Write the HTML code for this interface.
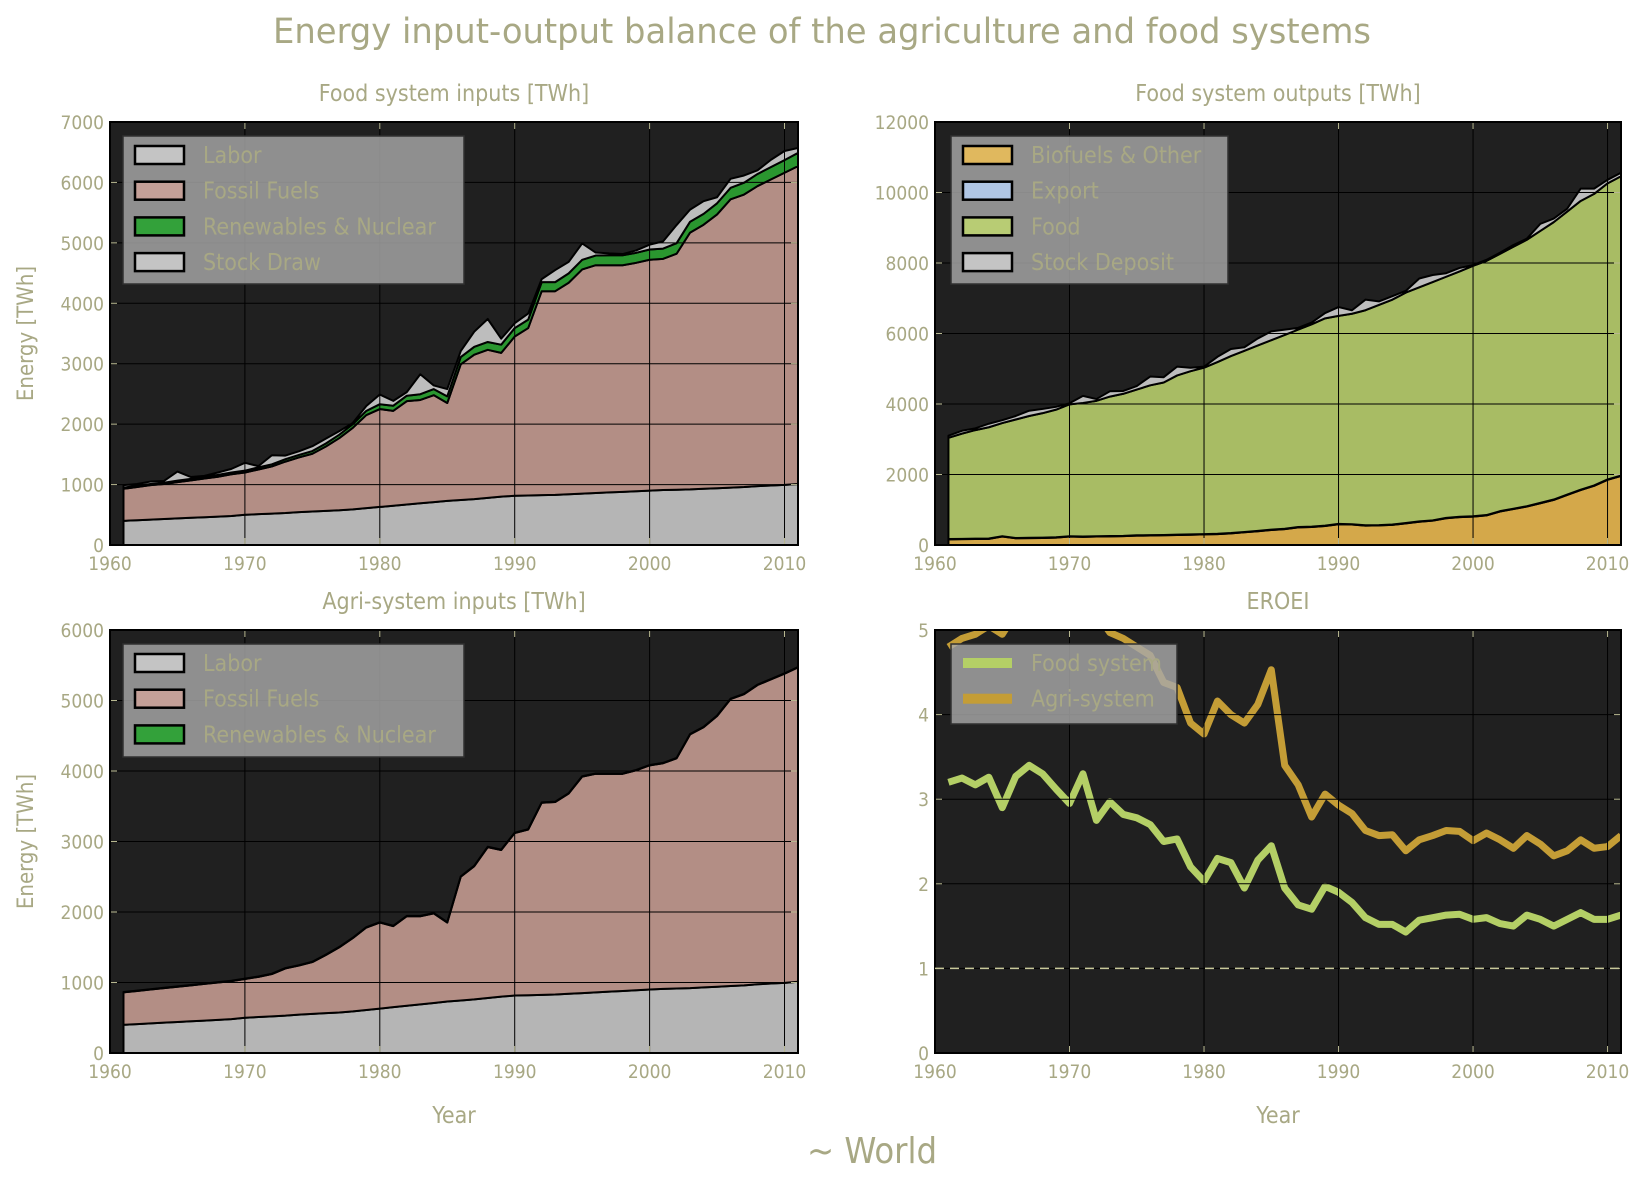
<!DOCTYPE html>
<html><head><meta charset="utf-8">
<style>
html,body{margin:0;padding:0;background:#fff;}
svg text{font-family:"DejaVu Sans Condensed","DejaVu Sans","Liberation Sans",sans-serif;fill:#a8a884;}
</style></head>
<body>
<svg id="fig" width="1644" height="1181" viewBox="0 0 1644 1181" xmlns="http://www.w3.org/2000/svg">
<text x="822" y="43" font-size="35" text-anchor="middle" textLength="1098" lengthAdjust="spacingAndGlyphs">Energy input-output balance of the agriculture and food systems</text>
<text x="872" y="1163" font-size="36" text-anchor="middle">~ World</text>
</svg>
<script>
const years=[];for(let y=1961;y<=2011;y++)years.push(y);
// Food system inputs
const fsLabor=[400,410,420,430,440,450,460,470,480,500,510,520,530,545,555,565,575,590,610,630,650,670,690,710,730,745,760,780,800,815,820,825,830,840,850,860,870,880,890,900,910,915,920,930,940,950,960,975,985,995,1010];
const fsFossil=[530,550,570,580,600,620,640,660,690,700,740,780,850,905,955,1065,1195,1350,1540,1620,1570,1710,1710,1770,1620,2245,2390,2450,2380,2635,2770,3375,3370,3500,3710,3770,3760,3750,3780,3820,3825,3905,4250,4370,4530,4770,4840,4965,5065,5165,5260];
const fsRenew=[20,20,20,20,25,25,25,30,30,30,35,35,40,40,45,50,55,60,70,80,85,90,95,100,110,120,130,130,135,140,140,150,150,155,160,160,165,165,165,170,170,175,180,180,185,190,195,200,205,210,220];
const fsStock=[40,30,40,30,150,30,20,40,60,130,20,150,60,60,80,80,60,20,80,160,80,60,330,60,120,100,250,380,100,80,100,50,200,190,270,50,30,20,40,80,120,300,200,210,100,150,120,60,120,150,80];
// Food system outputs
const foBio=[160,165,170,175,240,190,195,200,210,240,230,240,245,250,265,270,275,285,290,300,310,330,360,390,425,450,500,510,540,590,580,550,555,570,615,660,690,760,790,805,840,950,1020,1090,1185,1280,1420,1560,1680,1850,1960];
const foExport=[10,10,10,10,10,10,10,10,10,10,10,10,10,10,10,10,10,10,10,10,10,10,10,10,10,10,10,10,10,10,10,10,10,10,10,10,10,10,10,10,10,10,10,10,10,10,10,10,10,10,10];
const foFood=[2870,2985,3080,3155,3210,3360,3455,3530,3620,3740,3790,3840,3955,4030,4135,4250,4325,4515,4630,4720,4870,5020,5140,5260,5375,5500,5600,5740,5880,5900,5970,6100,6245,6380,6535,6640,6760,6840,6960,7105,7210,7300,7430,7560,7715,7870,8030,8190,8270,8400,8490];
const foStock=[60,80,50,100,80,100,150,120,80,30,200,50,150,80,100,250,150,250,100,30,150,200,100,200,250,150,50,50,150,250,100,300,100,100,50,250,200,100,100,20,30,30,50,30,200,100,80,350,150,100,100];
// Agri-system inputs
const agLabor=fsLabor.slice();
const agFossil=[460,470,480,490,500,510,520,530,540,550,570,600,670,695,735,825,925,1040,1170,1220,1150,1270,1250,1270,1120,1755,1890,2140,2080,2305,2350,2725,2730,2840,3070,3100,3090,3080,3120,3180,3200,3265,3600,3690,3840,4070,4130,4245,4315,4385,4460];
const agRenew=[5,5,5,5,5,5,5,5,5,5,5,5,5,5,5,5,5,5,5,5,5,5,5,5,5,5,5,5,5,5,5,5,5,5,5,5,5,5,5,5,5,5,5,5,5,5,5,5,5,5,5];
// EROEI
const eroeiFood=[3.2,3.25,3.17,3.26,2.9,3.27,3.4,3.3,3.12,2.95,3.3,2.75,2.97,2.82,2.78,2.7,2.5,2.53,2.2,2.03,2.3,2.25,1.95,2.28,2.45,1.95,1.75,1.7,1.97,1.9,1.78,1.6,1.52,1.52,1.43,1.57,1.6,1.63,1.64,1.58,1.6,1.53,1.5,1.63,1.58,1.5,1.58,1.66,1.58,1.58,1.63];
const eroeiAgri=[4.8,4.9,4.95,5.05,4.95,5.2,5.4,5.5,5.3,5.4,5.6,5.2,4.97,4.9,4.8,4.7,4.38,4.32,3.9,3.77,4.16,4.0,3.9,4.12,4.53,3.4,3.17,2.79,3.06,2.93,2.83,2.63,2.57,2.58,2.39,2.52,2.57,2.63,2.62,2.51,2.6,2.52,2.42,2.57,2.47,2.33,2.39,2.52,2.42,2.44,2.57];
const xTicks=[1960,1970,1980,1990,2000,2010];
const ticks1=[0,1000,2000,3000,4000,5000,6000,7000];
const ticks2=[0,2000,4000,6000,8000,10000,12000];
const ticks3=[0,1000,2000,3000,4000,5000,6000];
const ticks4=[0,1,2,3,4,5];

const NS="http://www.w3.org/2000/svg";
const fig=document.getElementById('fig');
function mk(tag,attrs,parent){const e=document.createElementNS(NS,tag);for(const k in attrs)e.setAttribute(k,attrs[k]);(parent||fig).appendChild(e);return e;}

function makeAxes(name,L,T,W,H,ymax,yt,title,ylab,xlab){
  const g=mk('g',{});
  
  
  const xs=v=>L+(v-1960)/(2011-1960)*W;
  const ys=v=>T+H-v/ymax*H;
  mk('rect',{x:L,y:T,width:W,height:H,fill:'#202020'},g);
  const plot=mk('g',{},g);
  const clip=mk('clipPath',{id:'c'+name},g);
  mk('rect',{x:L,y:T,width:W,height:H},clip);
  plot.setAttribute('clip-path','url(#c'+name+')');
  const grid=mk('g',{},g);
  xTicks.forEach(t=>{
    const x=xs(t);
    const l=mk('line',{x1:x,y1:T,x2:x,y2:T+H,stroke:'#000','stroke-width':1},grid);
    
    
    mk('line',{x1:x,y1:T+H,x2:x,y2:T+H-7,stroke:'#b8b890','stroke-width':1},g);
    mk('line',{x1:x,y1:T,x2:x,y2:T+7,stroke:'#b8b890','stroke-width':1},g);
    const tx=mk('text',{x:x,y:T+H+25,'font-size':19,'text-anchor':'middle'},g);
    tx.textContent=t;
    
    
  });
  yt.forEach(t=>{
    const y=ys(t);
    const l=mk('line',{x1:L,y1:y,x2:L+W,y2:y,stroke:'#000','stroke-width':1},grid);
    
    
    mk('line',{x1:L,y1:y,x2:L+7,y2:y,stroke:'#b8b890','stroke-width':1},g);
    mk('line',{x1:L+W,y1:y,x2:L+W-7,y2:y,stroke:'#b8b890','stroke-width':1},g);
    const tx=mk('text',{x:L-6,y:y+7,'font-size':19,'text-anchor':'end'},g);
    tx.textContent=t;
    
    
  });
  mk('rect',{x:L,y:T,width:W,height:H,fill:'none',stroke:'#000','stroke-width':2},g);
  const tt=mk('text',{x:L+W/2,y:T-21,'font-size':23,'text-anchor':'middle'},g);
  tt.textContent=title;
  
  
  if(ylab){
    const yl=mk('text',{x:0,y:0,'font-size':22,'text-anchor':'middle',transform:`translate(33,${T+H/2}) rotate(-90)`},g);
    yl.textContent=ylab;
    
    
  }
  if(xlab){
    const xl=mk('text',{x:L+W/2,y:T+H+70,'font-size':23,'text-anchor':'middle'},g);
    xl.textContent=xlab;
    
    
  }
  return {g,plot,grid,xs,ys,L,T,W,H};
}

function stack(ax,series){
  let base=years.map(()=>0);
  series.forEach(s=>{
    const top=base.map((b,i)=>b+s.vals[i]);
    let d='M'+years.map((y,i)=>ax.xs(y)+','+ax.ys(top[i])).join(' L');
    for(let i=years.length-1;i>=0;i--)d+=' L'+ax.xs(years[i])+','+ax.ys(base[i]);
    d+='Z';
    const p=mk('path',{d:d,fill:s.color,stroke:'#000','stroke-width':2,'stroke-linejoin':'round'},ax.plot);
    
    
    base=top;
  });
  ax.plot.parentNode.insertBefore(ax.grid,ax.plot.nextSibling);
}

function legend(ax,x,y,w,h,entries,kind){
  const g=mk('g',{},ax.g);
  
  
  mk('rect',{x:x,y:y,width:w,height:h,fill:'#a8a8a8','fill-opacity':0.82,stroke:'#303030','stroke-width':1.5},g);
  entries.forEach((e,i)=>{
    const cy=y+19+i*35.7;
    const eg=mk('g',{},g);
    
    
    if(kind==='line'){
      mk('rect',{x:x+12,y:cy-5,width:49,height:10,fill:e.color},eg);
    }else{
      mk('rect',{x:x+12,y:cy-9,width:49,height:18,fill:e.color,stroke:'#000','stroke-width':2.5},eg);
    }
    const t=mk('text',{x:x+80,y:cy+8,'font-size':23},eg);
    t.textContent=e.label;
  });
}

// Panel 1
const a1=makeAxes('food-system-inputs-chart',110,122,688,423,7000,ticks1,'Food system inputs [TWh]','Energy [TWh]',null);
stack(a1,[{name:'area-labor',vals:fsLabor,color:'#b5b5b5'},{name:'area-fossil-fuels',vals:fsFossil,color:'#b38e85'},{name:'area-renewables-nuclear',vals:fsRenew,color:'#2a962f'},{name:'area-stock-draw',vals:fsStock,color:'#bdbdbd'}]);
legend(a1,123,136,341,148,[{label:'Labor',color:'#c4c4c4'},{label:'Fossil Fuels',color:'#c4a098'},{label:'Renewables & Nuclear',color:'#33a13a'},{label:'Stock Draw',color:'#c4c4c4'}]);

// Panel 2
const a2=makeAxes('food-system-outputs-chart',935,122,686,423,12000,ticks2,'Food system outputs [TWh]',null,null);
stack(a2,[{name:'area-biofuels-other',vals:foBio,color:'#d4a84a'},{name:'area-export',vals:foExport,color:'#a8c0e0'},{name:'area-food',vals:foFood,color:'#a8bc64'},{name:'area-stock-deposit',vals:foStock,color:'#bdbdbd'}]);
legend(a2,951,136,277,148,[{label:'Biofuels & Other',color:'#e0b85e'},{label:'Export',color:'#b0c6e4'},{label:'Food',color:'#b8cc74'},{label:'Stock Deposit',color:'#c4c4c4'}]);

// Panel 3
const a3=makeAxes('agri-system-inputs-chart',110,630,688,423,6000,ticks3,'Agri-system inputs [TWh]','Energy [TWh]','Year');
stack(a3,[{name:'area-labor',vals:agLabor,color:'#b5b5b5'},{name:'area-fossil-fuels',vals:agFossil,color:'#b38e85'},{name:'area-renewables-nuclear',vals:agRenew,color:'#2a962f'}]);
legend(a3,123,644,341,113,[{label:'Labor',color:'#c4c4c4'},{label:'Fossil Fuels',color:'#c4a098'},{label:'Renewables & Nuclear',color:'#33a13a'}]);

// Panel 4
const a4=makeAxes('eroei-chart',935,630,686,423,5,ticks4,'EROEI',null,'Year');
const dl=mk('line',{x1:a4.L,y1:a4.ys(1),x2:a4.L+a4.W,y2:a4.ys(1),stroke:'#c8c89a','stroke-width':1.5,'stroke-dasharray':'9,6'},a4.g);


[[eroeiFood,'#b4cf66','line-food-system'],[eroeiAgri,'#c49d36','line-agri-system']].forEach(([vals,c,n])=>{
  const p=mk('polyline',{points:years.map((y,i)=>a4.xs(y)+','+a4.ys(vals[i])).join(' '),fill:'none',stroke:c,'stroke-width':7,'stroke-linejoin':'round'},a4.plot);
  
  
});
legend(a4,951,644,226,80,[{label:'Food system',color:'#b4cf66'},{label:'Agri-system',color:'#c49d36'}],'line');
</script>
</body></html>
